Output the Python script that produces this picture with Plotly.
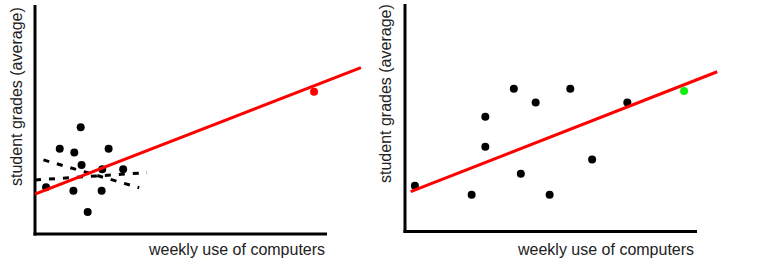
import plotly.graph_objects as go

W, H = 758, 280

# ---- data (axis length = 10 units in both panels) ----
left_x = [1.57, 0.85, 1.35, 2.53, 1.60, 3.03, 2.31, 0.38, 1.32, 2.29, 1.81]
left_y = [4.68, 3.74, 3.57, 3.74, 3.03, 2.84, 2.84, 2.05, 1.90, 1.90, 0.96]
left_outlier_x = [9.59]
left_outlier_y = [6.24]
left_fit_x = [0.0, 11.2]
left_fit_y = [1.75, 7.30]
left_dashA_x = [0.0, 3.85]
left_dashA_y = [2.37, 2.69]
left_dashB_x = [0.29, 3.58]
left_dashB_y = [3.25, 2.03]

right_x = [0.34, 2.29, 2.76, 2.76, 3.74, 3.98, 4.49, 4.97, 5.68, 6.43, 7.64]
right_y = [2.04, 1.64, 5.08, 3.76, 6.31, 2.57, 5.70, 1.64, 6.31, 3.19, 5.70]
right_new_x = [9.59]
right_new_y = [6.21]
right_fit_x = [0.196, 10.73]
right_fit_y = [1.78, 7.06]

x_title = "weekly use of computers"
y_title = "student grades (average)"

fig = go.Figure()

def px_x(p):
    return p / W

def px_y(p):
    return 1 - p / H

DOT = 8

# left panel traces
fig.add_trace(go.Scatter(x=left_dashA_x, y=left_dashA_y, mode="lines",
                         line=dict(color="black", width=3, dash="6px,8px"),
                         xaxis="x", yaxis="y"))
fig.add_trace(go.Scatter(x=left_dashB_x, y=left_dashB_y, mode="lines",
                         line=dict(color="black", width=3, dash="6px,8px"),
                         xaxis="x", yaxis="y"))
fig.add_trace(go.Scatter(x=left_x, y=left_y, mode="markers",
                         marker=dict(color="black", size=DOT),
                         xaxis="x", yaxis="y"))
fig.add_trace(go.Scatter(x=left_fit_x, y=left_fit_y, mode="lines",
                         line=dict(color="#ff0000", width=3),
                         xaxis="x", yaxis="y"))
fig.add_trace(go.Scatter(x=left_outlier_x, y=left_outlier_y, mode="markers",
                         marker=dict(color="#ff0000", size=DOT),
                         xaxis="x", yaxis="y"))

# right panel traces
fig.add_trace(go.Scatter(x=right_x, y=right_y, mode="markers",
                         marker=dict(color="black", size=DOT),
                         xaxis="x2", yaxis="y2"))
fig.add_trace(go.Scatter(x=right_fit_x, y=right_fit_y, mode="lines",
                         line=dict(color="#ff0000", width=3),
                         xaxis="x2", yaxis="y2"))
fig.add_trace(go.Scatter(x=right_new_x, y=right_new_y, mode="markers",
                         marker=dict(color="#11ee11", size=DOT),
                         xaxis="x2", yaxis="y2"))

ax_common = dict(showgrid=False, zeroline=False, showticklabels=False,
                 ticks="", showline=False, fixedrange=True)

# left: x 35px -> 0, 29.1 px/unit ; y 234px -> 0, 22.8 px/unit
fig.update_layout(
    xaxis=dict(domain=[px_x(35), px_x(366)], range=[0, (366 - 35) / 29.1], **ax_common),
    yaxis=dict(domain=[px_y(234), px_y(6)], range=[0, 10], **ax_common),
    xaxis2=dict(domain=[px_x(405), px_x(722)], range=[0, (722 - 405) / 29.1], **ax_common),
    yaxis2=dict(domain=[px_y(232), px_y(5)], range=[0, 10], **ax_common),
)

shapes = []
def line(x0, y0, x1, y1):
    shapes.append(dict(type="line", xref="paper", yref="paper",
                       x0=px_x(x0), y0=px_y(y0), x1=px_x(x1), y1=px_y(y1),
                       line=dict(color="black", width=3), layer="below"))

# axis frames
line(35, 5, 35, 235.5)
line(33.5, 234, 327, 234)
line(405, 4, 405, 233)
line(403.5, 231.5, 697, 231.5)

annotations = []
def text(t, x, y, angle=0):
    annotations.append(dict(text=t, xref="paper", yref="paper",
                            x=px_x(x), y=px_y(y), xanchor="center", yanchor="middle",
                            showarrow=False, textangle=angle,
                            font=dict(family="Liberation Sans, Arial", size=16, color="#222")))

text(x_title, 236.5, 249)
text(x_title, 605.5, 249)
text(y_title, 16, 97, -90)
text(y_title, 386, 94, -90)

fig.update_layout(
    width=W, height=H,
    margin=dict(l=0, r=0, t=0, b=0),
    paper_bgcolor="white", plot_bgcolor="rgba(0,0,0,0)",
    showlegend=False,
    shapes=shapes, annotations=annotations,
)

fig.write_html("out.html", config={"displayModeBar": False})
